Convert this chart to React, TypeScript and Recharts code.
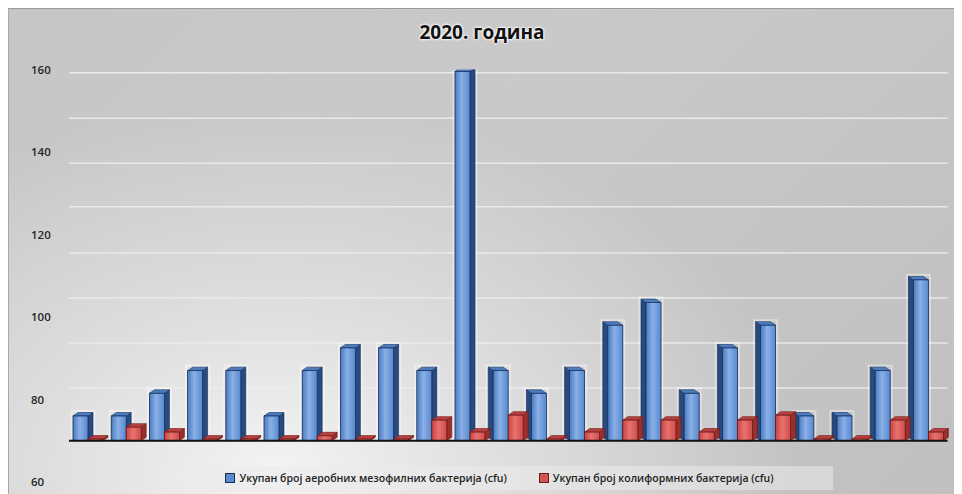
import React from "react"
import { BarChart, Bar, XAxis, YAxis, CartesianGrid, ReferenceLine } from "recharts"

// samples 1..23, values
const categories = ["1", "2", "3", "4", "5", "6", "7", "8", "9", "10", "11", "12", "13", "14", "15", "16", "17", "18", "19", "20", "21", "22", "23"]
const aerobic = [76, 76, 81.5, 87, 87, 76, 87, 92.5, 92.5, 87, 159.5, 87, 81.5, 87, 98, 103.5, 81.5, 92.5, 98, 76, 76, 87, 109]
const coliform = [70.4, 73.3, 72.1, 70.4, 70.4, 70.4, 71.2, 70.4, 70.4, 75, 72.1, 76.2, 70.4, 72.1, 75, 75, 72.1, 75, 76.2, 70.4, 70.4, 75, 72.1]
const floorValue = 70
const yTicks = [60, 80, 100, 120, 140, 160]
const gridValues = [82.8, 93.7, 104.6, 115.5, 126.7, 137.3, 148.2, 159.2]
const seriesNames = [
  "Укупан број аеробних мезофилних бактерија (cfu)",
  "Укупан број колиформних бактерија (cfu)",
]

const W = 954
const H = 486
const FONT = "'Open Sans', 'Liberation Sans', sans-serif"

const rows = categories.map((c, i) => ({
  name: c,
  aer: [floorValue, aerobic[i]],
  kol: [floorValue, coliform[i]],
}))

const palettes = {
  blue: { grad: "gBlue", side: "#274a80", top: "#4d7cc0", stroke: "#17305a" },
  red: { grad: "gRed", side: "#9b2f2d", top: "#b84240", stroke: "#6e1716" },
}

function make3D(kind: "blue" | "red") {
  const p = palettes[kind]
  return (props: any) => {
    const { x, y, width, height } = props
    if (width == null || height == null) return null
    const h = Math.max(height, 0.6)
    const dx = 5
    const dy = 3.5
    const leanLeft = kind === "blue" && x + width / 2 > W / 2 + 10
    const s = leanLeft ? -1 : 1
    const xe = leanLeft ? x : x + width
    const side = `${xe},${y} ${xe},${y + h} ${xe + s * dx},${y + h - dy} ${xe + s * dx},${y - dy}`
    const top = `${x},${y} ${x + width},${y} ${x + width + s * dx},${y - dy} ${x + s * dx},${y - dy}`
    return (
      <g>
        {kind === "blue" && (
          <rect
            x={Math.min(x, x + s * dx) - 1.5}
            y={y - dy - 1.5}
            width={width + dx + 3}
            height={h + dy + 1.5}
            fill="none"
            stroke="#ffffff"
            strokeOpacity={0.4}
            strokeWidth={2}
          />
        )}
        <polygon points={side} fill={p.side} stroke={p.stroke} strokeWidth={0.6} />
        <polygon points={top} fill={p.top} stroke={p.stroke} strokeWidth={0.6} />
        <rect x={x} y={y} width={width} height={h} fill={`url(#${p.grad})`} stroke={p.stroke} strokeWidth={0.8} />
      </g>
    )
  }
}

const BlueShape = make3D("blue")
const RedShape = make3D("red")

function YTick(props: any) {
  const { y, payload } = props
  return (
    <text x={23} y={y} dy={4} fill="#262626" fontSize={11.5} fontWeight={600} fontFamily={FONT} textAnchor="start">
      {payload.value}
    </text>
  )
}

export default function App() {
  return (
    <div
      style={{
        position: "relative",
        width: W,
        height: H,
        borderTop: "1px solid #9a9a9a",
        borderLeft: "1px solid #a8a8a8",
        boxSizing: "border-box",
        background:
          "radial-gradient(ellipse 55% 75% at 28% 95%, #f3f3f3 0%, #dedede 45%, rgba(192,192,192,0) 100%), linear-gradient(135deg, #c6c6c6 0%, #c9c9c9 40%, #c0c0c0 100%)",
        overflow: "hidden",
      }}
    >
      <div
        style={{
          position: "absolute",
          top: 10,
          left: 0,
          width: 946,
          textAlign: "center",
          fontFamily: FONT,
          fontWeight: 700,
          fontSize: 19,
          color: "#111",
          textShadow: "0 0 3px #fff, 0 0 3px #fff, 0 0 2px #fff",
        }}
      >
        2020. година
      </div>
      <BarChart
        width={W}
        height={H}
        data={rows}
        margin={{ top: 61.5, right: 14.4, bottom: 12, left: 0 }}
        barGap={0}
        barCategoryGap={8}
        style={{ position: "absolute", top: -1, left: -1 }}
      >
        <defs>
          <linearGradient id="gBlue" x1="0" y1="0" x2="1" y2="0">
            <stop offset="0%" stopColor="#4a7bc2" />
            <stop offset="45%" stopColor="#8ab0e6" />
            <stop offset="100%" stopColor="#5788cf" />
          </linearGradient>
          <linearGradient id="gRed" x1="0" y1="0" x2="1" y2="0">
            <stop offset="0%" stopColor="#c94442" />
            <stop offset="45%" stopColor="#e8726f" />
            <stop offset="100%" stopColor="#cf4c49" />
          </linearGradient>
        </defs>
        <CartesianGrid horizontalValues={gridValues} vertical={false} stroke="#ececec" strokeOpacity={0.9} strokeWidth={1.5} />
        <XAxis dataKey="name" hide />
        <YAxis
          type="number"
          domain={[60, 160]}
          ticks={yTicks}
          width={61}
          axisLine={false}
          tickLine={false}
          tick={<YTick />}
          allowDataOverflow
        />
        <ReferenceLine y={floorValue} stroke="#111" strokeWidth={2} />
        <Bar dataKey="aer" barSize={15} shape={BlueShape} isAnimationActive={false} />
        <Bar dataKey="kol" barSize={15} shape={RedShape} isAnimationActive={false} />
      </BarChart>
      <div
        style={{
          position: "absolute",
          left: 157,
          top: 457,
          width: 667,
          height: 24,
          background: "rgba(235,235,235,0.55)",
          display: "flex",
          alignItems: "center",
          justifyContent: "center",
          gap: 32,
          fontFamily: FONT,
          fontSize: 10.5,
          fontWeight: 600,
          color: "#222",
        }}
      >
        {seriesNames.map((n, i) => (
          <span key={n} style={{ display: "flex", alignItems: "center", gap: 4 }}>
            <span
              style={{
                display: "inline-block",
                width: 8,
                height: 8,
                background: i === 0 ? "#5a8ad0" : "#d35552",
                border: `1px solid ${i === 0 ? "#17305a" : "#6e1716"}`,
              }}
            />
            {n}
          </span>
        ))}
      </div>
    </div>
  )
}
